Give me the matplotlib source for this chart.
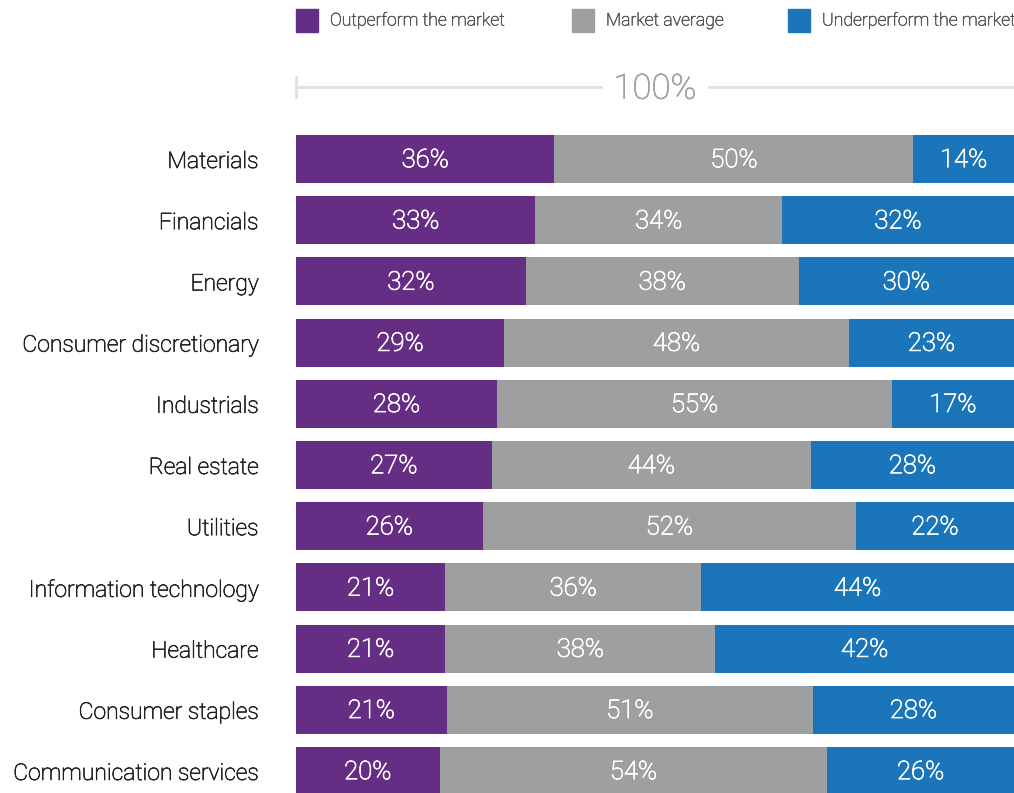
import matplotlib.pyplot as plt
import matplotlib.patheffects as pe
import matplotlib.transforms as mtransforms
from matplotlib.patches import Rectangle
import numpy as np

plt.rcParams["font.family"] = ["Roboto", "DejaVu Sans"]

sectors = [
    "Materials", "Financials", "Energy", "Consumer discretionary", "Industrials",
    "Real estate", "Utilities", "Information technology", "Healthcare",
    "Consumer staples", "Communication services",
]
outperform = [36, 33, 32, 29, 28, 27, 26, 21, 21, 21, 20]
average = [50, 34, 38, 48, 55, 44, 52, 36, 38, 51, 54]
underperform = [14, 32, 30, 23, 17, 28, 22, 44, 42, 28, 26]

series_names = ["Outperform the market", "Market average", "Underperform the market"]
colors = ["#662d84", "#9d9fa0", "#1a75bb"]


def bold_light(color, w=0.6):
    # Roboto Light looks a touch heavier in the reference
    return [pe.withStroke(linewidth=w, foreground=color)]


W, H = 1014, 793
fig = plt.figure(figsize=(W / 100, H / 100), dpi=100)
ax = fig.add_axes([296 / W, 0, 1 - 296 / W, 1 - 130 / H])

vals = np.array([outperform, average, underperform], dtype=float)
shares = vals / vals.sum(axis=0) * 100
y = np.arange(len(sectors))
left = np.zeros(len(sectors))
for k in range(3):
    ax.barh(y, shares[k], left=left, height=0.785, color=colors[k], linewidth=0)
    for i in range(len(sectors)):
        ax.text(left[i] + shares[k][i] / 2, y[i] + 0.02, f"{int(vals[k][i])}%", ha="center",
                va="center", color="white", fontsize=18.5, fontweight="light",
                path_effects=bold_light("white"))
    left += shares[k]

ax.set_xlim(0, 100)
ax.set_ylim(10.36, -0.474)
ax.set_yticks(y)
ax.set_yticklabels(sectors, fontsize=16.5, fontweight="light", color="#222222")
for lbl in ax.get_yticklabels():
    lbl.set_path_effects(bold_light("#222222", 0.5))
ax.tick_params(axis="y", length=0, pad=27)
ax.set_xticks([])
for s in ax.spines.values():
    s.set_visible(False)

# 100% bracket
tr = mtransforms.blended_transform_factory(ax.transData, fig.transFigure)
yb = 1 - 87 / H
line_kw = dict(color="#e0e0e0", lw=2, transform=tr, clip_on=False)
ax.plot([0, 42.5], [yb, yb], **line_kw)
ax.plot([57.5, 100], [yb, yb], **line_kw)
ax.plot([0, 0], [yb - 10 / H, yb + 10 / H], **line_kw)
ax.text(50, yb - 2 / H, "100%", transform=tr, ha="center", va="center", fontsize=25,
        fontweight="light", color="#9d9fa0", path_effects=bold_light("#9d9fa0", 0.5))

# legend
leg_x = [296, 572, 788]
for k in range(3):
    fig.add_artist(Rectangle((leg_x[k] / W, 1 - 32 / H), 22 / W, 23 / H,
                             color=colors[k], transform=fig.transFigure))
    fig.text((leg_x[k] + 34) / W, 1 - 20.5 / H, series_names[k], ha="left",
             va="center", fontsize=12.7, fontweight="light", color="#555555",
             path_effects=bold_light("#555555", 0.4))

fig.savefig("out.png", dpi=100)
